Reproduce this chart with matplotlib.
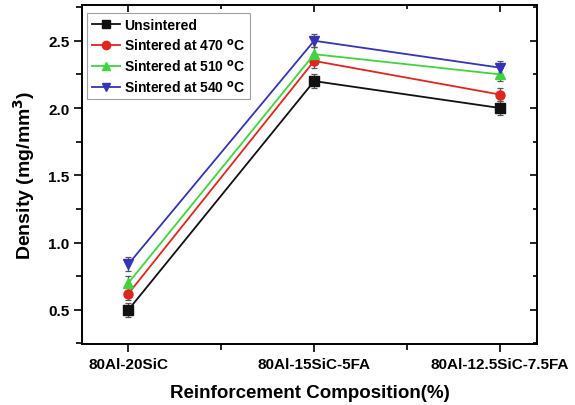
import matplotlib
matplotlib.use("Agg")
import matplotlib.pyplot as plt
from matplotlib.lines import Line2D
from matplotlib.ticker import MultipleLocator, FixedLocator

plt.rcParams['font.family'] = ['Liberation Sans', 'DejaVu Sans']
plt.rcParams['font.weight'] = 'bold'
plt.rcParams['mathtext.default'] = 'bf'

categories = ["80Al-20SiC", "80Al-15SiC-5FA", "80Al-12.5SiC-7.5FA"]
series_labels = ["Unsintered",
                 r"Sintered at 470 $^\mathbf{o}$C",
                 r"Sintered at 510 $^\mathbf{o}$C",
                 r"Sintered at 540 $^\mathbf{o}$C"]
unsintered = [0.50, 2.20, 2.00]
sintered_470 = [0.62, 2.35, 2.10]
sintered_510 = [0.70, 2.40, 2.25]
sintered_540 = [0.84, 2.50, 2.30]
errors = [0.05, 0.05, 0.05]

series = [unsintered, sintered_470, sintered_510, sintered_540]
colors = ["#111111", "#e0251f", "#3fd43f", "#3434b4"]
markers = ["s", "o", "^", "v"]

fig = plt.figure(figsize=(5.75, 4.06), dpi=100)
ax = fig.add_axes([0.1426, 0.150, 0.934 - 0.1426, 0.985 - 0.150])

x = list(range(len(categories)))
handles = []
for vals, lab, c, m in zip(series, series_labels, colors, markers):
    ax.errorbar(x, vals, yerr=errors, color=c, marker=m, markersize=6.5,
                linewidth=1.3, elinewidth=0.9, capsize=2.5, capthick=0.9,
                ecolor="#555555")
    handles.append(Line2D([], [], color=c, marker=m, markersize=6,
                          linewidth=1.3, label=lab))

ax.set_xlim(-0.25, 2.2)
ax.set_ylim(0.245, 2.765)
ax.set_xticks(x)
ax.set_xticklabels(categories, fontsize=11, fontweight='bold')
ax.xaxis.set_minor_locator(FixedLocator([0.5, 1.5]))
ax.yaxis.set_minor_locator(MultipleLocator(0.25))
ax.set_yticks([0.5, 1.0, 1.5, 2.0, 2.5])
ax.set_yticklabels(["0.5", "1.0", "1.5", "2.0", "2.5"], fontsize=11, fontweight='bold')

for s in ax.spines.values():
    s.set_linewidth(1.4)

ax.tick_params(axis='both', which='major', direction='out', length=6, width=1.2,
               top=False, right=False, pad=3)
ax.tick_params(axis='both', which='minor', direction='out', length=4, width=1.2,
               top=False, right=False)

# mirrored inward ticks on the top and right spines
axt = ax.secondary_xaxis('top')
axt.set_xticks(x)
axt.xaxis.set_minor_locator(FixedLocator([0.5, 1.5]))
axt.tick_params(which='major', direction='in', length=5, width=1.2, labeltop=False)
axt.tick_params(which='minor', direction='in', length=3, width=1.2)
axt.spines['top'].set_visible(False)
axr = ax.secondary_yaxis('right')
axr.set_yticks([0.5, 1.0, 1.5, 2.0, 2.5])
axr.yaxis.set_minor_locator(MultipleLocator(0.25))
axr.tick_params(which='major', direction='in', length=5, width=1.2, labelright=False)
axr.tick_params(which='minor', direction='in', length=3, width=1.2)
axr.spines['right'].set_visible(False)

ax.set_xlabel("Reinforcement Composition(%)", fontsize=13.5, fontweight='bold', labelpad=10)
ax.set_ylabel(r"Density (mg/mm$^\mathbf{3}$)", fontsize=14, fontweight='bold', labelpad=8)

leg = ax.legend(handles=handles, loc='upper left', bbox_to_anchor=(0.005, 0.985),
                fontsize=10, frameon=True, fancybox=False, edgecolor="#888888",
                handlelength=2.0, handletextpad=0.3, borderpad=0.35,
                labelspacing=0.35, borderaxespad=0.2)
leg.get_frame().set_linewidth(0.8)

fig.savefig("out.png", dpi=100)
